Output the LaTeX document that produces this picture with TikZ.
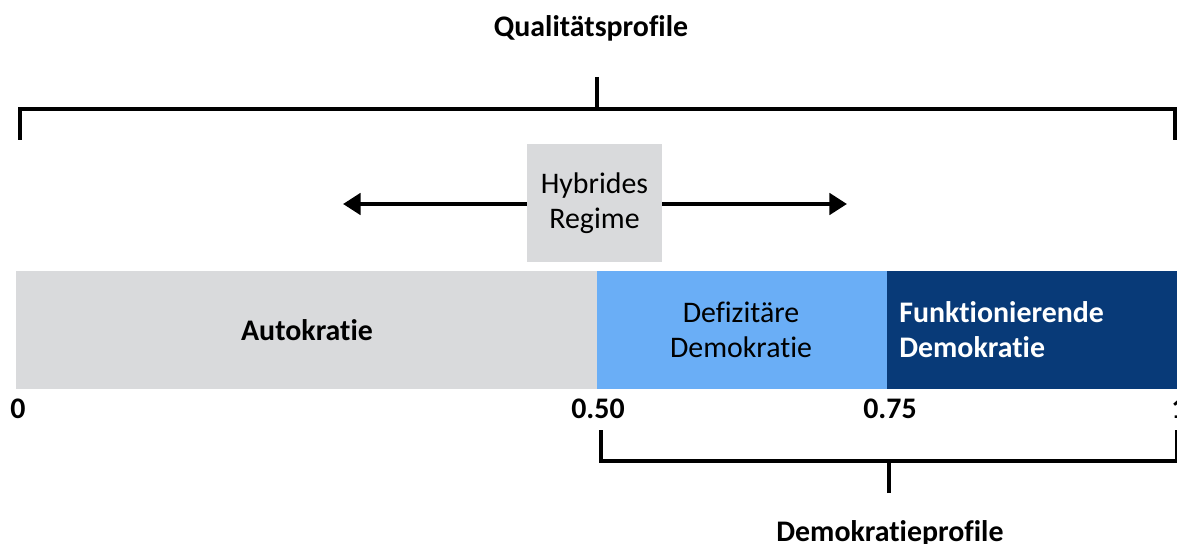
\documentclass[tikz,border=0pt]{standalone}
\usepackage{fontspec}
\setmainfont{Carlito}[Ligatures=NoCommon]
\usepackage{xcolor}
\usetikzlibrary{positioning, arrows.meta}

\definecolor{autogray}{HTML}{D9DADC}
\definecolor{defblue}{HTML}{6AAEF6}
\definecolor{funkblue}{HTML}{083A78}

\tikzset{
  lbl/.style={font=\fontsize{17}{20}\selectfont, align=center, inner sep=0pt},
  blbl/.style={lbl, font=\fontsize{17}{20}\selectfont\bfseries},
  seg/.style={draw=none, minimum height=118*0.02cm, inner sep=0pt, anchor=north west},
  brk/.style={line width=2.1pt},
}

\begin{document}
\begin{tikzpicture}[x=0.02cm, y=-0.02cm]
  \useasboundingbox (0,0) rectangle (1177,544);

  % Titel oben
  \node[blbl] (qtitle) at (591,28) {Qualitätsprofile};

  % Klammer fuer Qualitaetsprofile
  \coordinate (qL) at (20,140);
  \coordinate (qR) at (1175,140);
  \coordinate (qM) at (597,77);
  \draw[brk] (qL) -- (20,109) -- (1175,109) -- (qR);
  \draw[brk] (qM) -- (597,109);

  % Balken
  \node[seg, fill=autogray, minimum width=581*0.02cm] (auto) at (16,271) {};
  \node[seg, fill=defblue, minimum width=290*0.02cm] (def) at (597,271) {};
  \node[seg, fill=funkblue, minimum width=290*0.02cm] (funk) at (887,271) {};

  \node[blbl] at (307,330) {Autokratie};
  \node[lbl] at (741,330) {Defizitäre\\Demokratie};
  \node[blbl, text=white, align=left, anchor=west] at (899,330) {Funktionierende\\Demokratie};

  % Hybrides Regime mit Pfeilen
  \node[lbl, fill=autogray, minimum width=135*0.02cm, minimum height=118*0.02cm] (hyb) at (594.5,203) {Hybrides\\Regime};
  \coordinate (hL) at (343,204);
  \coordinate (hR) at (847,204);
  \draw[-{Triangle[width=12pt,length=10pt]}, line width=2.6pt] (hyb.west |- hL) -- (hL);
  \draw[-{Triangle[width=12pt,length=10pt]}, line width=2.6pt] (hyb.east |- hR) -- (hR);

  % Skala
  \node[blbl] (s0) at (18,409) {0};
  \node[blbl] (s50) at (598,409) {0.50};
  \node[blbl] (s75) at (890,409) {0.75};
  \node[blbl] (s1) at (1179,409) {1};

  % Klammer fuer Demokratieprofile
  \coordinate (dL) at (601,430);
  \coordinate (dR) at (1177,430);
  \coordinate (dM) at (889,493);
  \draw[brk] (dL) -- (601,461) -- (1177,461) -- (dR);
  \draw[brk] (dM) -- (889,461);
  \node[blbl] (dtitle) at (890,533) {Demokratieprofile};
\end{tikzpicture}
\end{document}
